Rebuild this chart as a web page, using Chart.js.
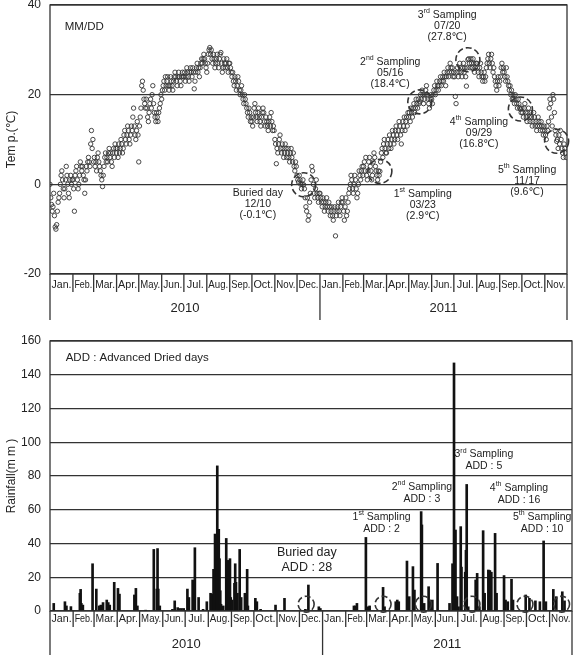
<!DOCTYPE html>
<html>
<head>
<meta charset="utf-8">
<script src="https://cdn.jsdelivr.net/npm/chart.js@4.4.0/dist/chart.umd.min.js"></script>
<style>
  html, body { margin: 0; padding: 0; background: #fff; }
  #wrap { position: relative; width: 577px; height: 655px; }
  canvas { position: absolute; left: 0; }
  #tempChart { top: 0; width: 577px; height: 325px; }
  #rainChart { top: 325px; width: 577px; height: 330px; }
</style>
</head>
<body>
<div id="wrap">
  <canvas id="tempChart" width="577" height="325"></canvas>
  <canvas id="rainChart" width="577" height="330"></canvas>
</div>
<script>
const FONT = '"Liberation Sans", Arial, "DejaVu Sans", sans-serif';
const INK = '#222';

const monthNames = ['Jan.', 'Feb.', 'Mar.', 'Apr.', 'May.', 'Jun.', 'Jul.', 'Aug.', 'Sep.', 'Oct.', 'Nov.', 'Dec.'];
const years = [2010, 2011];
const monthsShown = [12, 11];

// daily mean temperature (℃), one row per month
const temp2010 = [
  [0, -3, -4.5, -6, -5, -2, -7, -9.5, -10, -9, -6, -4, -3, -2, 0, 2, 3, 1, -1, -3, -1, 1, 4, 2, 0, -2, -3, 1, 2, 0, 1],
  [1, -1, -6, 2, 3, 4, 1, -1, 0, 2, 5, 4, 3, 4, 2, 1, -2, 1, 4, 3, 5, 6, 5, 4, 9, 12, 8, 10],
  [5, 6, 4, 5, 3, 6, 7, 5, 4, 3, 2, 1, -0.5, 2, 4, 6, 7, 5, 6, 5, 7, 8, 6, 7, 5, 4, 7, 8, 6, 9, 8],
  [7, 8, 6, 9, 7, 8, 10, 9, 7, 8, 11, 12, 10, 9, 11, 13, 12, 10, 9, 11, 13, 12, 15, 17, 13, 11, 10, 12, 14, 11],
  [5, 13, 15, 17, 22, 23, 21, 19, 18, 17, 19, 17, 15, 14, 16, 18, 19, 17, 20, 22, 18, 16, 15, 14, 16, 15, 14, 16, 17, 18, 20],
  [19, 21, 22, 23, 21, 24, 22, 23, 24, 22, 21, 22, 24, 23, 22, 21, 23, 24, 25, 24, 23, 22, 24, 25, 24, 23, 22, 24, 25, 24],
  [24, 25, 23, 24, 26, 25, 24, 23, 25, 26, 25, 24, 26, 25, 21.3, 23, 25, 26, 27, 25, 26, 24, 26, 27, 28, 27, 28, 29, 28, 27, 26],
  [25, 27, 29, 30, 30.5, 29, 30, 28, 27, 29, 28, 26, 27, 28, 29, 27, 26, 28, 29, 29.4, 27, 25, 26, 28, 27, 26, 27, 28, 26, 25, 27],
  [27, 26, 25, 24, 25, 23, 22, 24, 23, 21, 22, 24, 23, 21, 20, 21, 22, 20, 19, 18, 20, 19, 18, 17, 16, 15, 17, 16, 14, 15],
  [14, 13, 15, 17, 18, 16, 15, 14, 16, 17, 15, 14, 13, 15, 16, 17, 16, 14, 13, 15, 14, 13, 12, 14, 15, 13, 16, 14, 12, 13, 12],
  [10, 9, 4.6, 8, 7, 9, 10, 11, 8, 7, 9, 8, 6, 7, 9, 8, 6, 7, 8, 6, 5, 7, 8, 6, 5, 7, 4, 3, 5, 4],
  [2, 1, 0.5, 2, 1, 0, -1, 0, 1, -0.1, -1, -3, -5, -6, -3, -8, -7, -4, -2, 1, 4, 3, 0, -2, -3, -1, 1, -2, -3, -4, -2]
];
const temp2011 = [
  [-2, -3, -4, -5, -3, -4, -6, -5, -4, -3, -5, -6, -4, -5, -7, -6, -5, -7, -8, -6, -5, -11.5, -7, -6, -5, -4, -6, -7, -5, -4, -3],
  [-4, -6, -8, -5, -3, -7, -6, -4, -2, -1, 0, 2, 1, -1, -2, 0, 2, 1, -1, -3, -2, 0, 3, 2, 1, 3, 4, 2],
  [4, 5, 3, 6, 2, 1, 3, 5, 6, 4, 3, 1, 2, 5, 7, 6, 4, 3, 2, 1, 3, 2, 2.9, 5, 7, 8, 6, 9, 10, 8, 7],
  [7, 9, 10, 8, 11, 9, 8, 10, 12, 11, 9, 10, 12, 13, 11, 10, 12, 14, 13, 11, 9, 12, 14, 13, 15, 12, 14, 15, 13, 16],
  [15, 16, 14, 17, 16, 15, 17, 18, 16, 17, 19, 18, 17, 19, 18, 18.4, 20, 19, 21, 20, 18, 19, 20, 21, 22, 20, 19, 18, 17, 19, 20],
  [19, 18, 20, 21, 22, 20, 21, 23, 22, 21, 22, 23, 24, 22, 23, 24, 23, 25, 24, 22, 24, 25, 26, 24, 25, 27, 26, 25, 26, 24],
  [25, 24, 19.6, 18, 25, 26, 24, 25, 27, 26, 25, 24, 26, 27, 25, 26, 24, 21.9, 26, 27.8, 28, 27, 26, 28, 27, 26, 28, 27, 25, 26, 27],
  [27, 26, 25, 24, 26, 27, 25, 24, 23, 24, 25, 23, 24, 26, 27, 28, 29, 27, 26, 28, 29, 27, 25, 26, 24, 23, 22, 21, 23, 24, 22],
  [23, 24, 26, 27, 25, 26, 25, 24, 23, 26, 24, 23, 22, 21, 22, 20, 21, 19, 20, 19, 18, 20, 19, 18, 17, 19, 18, 17, 16.8, 16],
  [17, 16, 15, 17, 18, 16, 15, 14, 16, 17, 15, 14, 16, 15, 13, 14, 16, 15, 13, 14, 12, 13, 15, 14, 13, 12, 14, 13, 12, 11, 13],
  [12, 11, 10, 13, 12, 14, 17, 19, 18, 15, 13, 20, 19, 16, 12, 11, 9.6, 10, 8, 11, 9, 12, 10, 8, 7, 6, 9, 8, 7, 6]
];

// daily rainfall (mm), day of year -> amount
const rainDay2010 = [6, 21, 23, 29, 41, 42, 43, 45, 58, 63, 67, 69, 72, 77, 79, 81, 87, 92, 94, 114, 116, 118, 129, 140, 144, 145, 146, 148,
  165, 168, 172, 174, 177, 180, 185, 187, 192, 193, 195, 200, 206, 211, 216, 218, 220, 221, 222, 223, 224, 225, 226, 227, 228, 229, 230,
  233, 237, 238, 239, 240, 241, 242, 243, 245, 248, 249, 250, 251, 252, 255, 257, 262, 265, 266, 276, 278, 283, 303, 315, 343, 347, 361, 363];
const rain2010 = [4.5, 5.5, 3, 2.6, 10.5, 12.8, 4.5, 3.5, 28, 13, 3, 3.5, 5, 6.5, 5, 3.5, 17, 13.4, 10, 9.5, 13.4, 3, 0.5, 36.5, 13, 37, 13, 3,
  1, 6, 2, 1.5, 1.5, 1.5, 13, 8, 18.4, 18, 37.5, 8, 1, 5.5, 10.5, 10, 24.7, 20, 45.6, 6, 30.6, 86, 32, 48.4, 31, 12, 4,
  3, 43, 17, 30, 16.4, 4, 31, 8, 6.5, 16.4, 28, 17, 7, 10.5, 36.5, 8, 10.5, 24.7, 3, 7.5, 5.5, 1, 3.5, 7.5, 1, 15.4, 2.5, 1.5];
const rainDay2011 = [43, 45, 47, 59, 62, 64, 82, 84, 99, 101, 103, 114, 117, 122, 124, 133, 134, 137, 143, 146, 148, 155, 171, 175, 176, 177,
  179, 181, 183, 186, 187, 192, 193, 194, 196, 206, 208, 211, 216, 218, 223, 225, 227, 232, 234, 244, 246, 249, 254, 256, 273, 278, 286,
  292, 297, 300, 310, 314, 322, 325];
const rain2011 = [3, 3, 4.5, 43.6, 2.5, 3, 14, 2.5, 5.5, 6.5, 5.5, 29.6, 8.5, 26.3, 12.4, 58.9, 51, 4.5, 14.4, 5.5, 6.5, 28.2, 4.5, 28, 19, 147,
  48, 8.5, 2.5, 50, 26, 23, 36, 75, 2.5, 18.4, 22.3, 2.5, 47.6, 10.5, 24.3, 24, 23, 46, 10.5, 21, 6.5, 5.5, 18.8, 6.5, 9.5, 7.5, 6,
  5.5, 41.5, 5.5, 12.8, 8.5, 11.4, 6];

// sampling events
const sampleDates = ['2010-12-10', '2011-03-23', '2011-05-16', '2011-07-20', '2011-09-29', '2011-11-17'];
const sampleTemps = [-0.1, 2.9, 18.4, 27.8, 16.8, 9.6];
const sampleADD = [28, 2, 3, 5, 16, 10];
const sampleOrd = [null, ['1', 'st'], ['2', 'nd'], ['3', 'rd'], ['4', 'th'], ['5', 'th']];

// label anchors in data units [day index, value]
const tempLabelAt = [[281, -1.9], [504, -2.1], [460, 27.3], [537, 37.8], [580, 13.9], [645, 3.2]];
const rainLabelAt = [[344, 34.4], [444, 55.7], [498, 73.5], [581, 93], [628, 72.9], [659, 55.7]];

function dayIndex(y, m, d) {
  return (Date.UTC(y, m, d) - Date.UTC(2010, 0, 1)) / 864e5;
}
function dateIndex(s) {
  const [y, m, d] = s.split('-').map(Number);
  return dayIndex(y, m - 1, d);
}

const monthStarts = [];
for (let i = 0; i <= 23; i++) monthStarts.push(dayIndex(2010, i, 1));
const xMax = monthStarts[23];

const tempPoints = [];
[temp2010, temp2011].forEach((rows, yi) => {
  rows.forEach((vals, m) => vals.forEach((v, i) => tempPoints.push({ x: dayIndex(years[yi], m, i + 1), y: v })));
});
const rainPoints = [];
rainDay2010.forEach((d, i) => rainPoints.push({ x: dayIndex(2010, 0, d), y: rain2010[i] }));
rainDay2011.forEach((d, i) => rainPoints.push({ x: dayIndex(2011, 0, d), y: rain2011[i] }));

function mmdd(s) { return s.slice(5).replace('-', '/'); }

function drawHead(ctx, ord, text, cx, y, size) {
  ctx.textBaseline = 'middle';
  if (!ord) {
    ctx.font = size + 'px ' + FONT;
    ctx.textAlign = 'center';
    ctx.fillText(text, cx, y);
    return;
  }
  const big = size + 'px ' + FONT;
  const small = Math.round(size * 0.62) + 'px ' + FONT;
  ctx.font = big;
  const w1 = ctx.measureText(ord[0]).width;
  const w3 = ctx.measureText(' Sampling').width;
  ctx.font = small;
  const w2 = ctx.measureText(ord[1]).width;
  let x = cx - (w1 + w2 + w3) / 2;
  ctx.textAlign = 'left';
  ctx.font = big; ctx.fillText(ord[0], x, y); x += w1;
  ctx.font = small; ctx.fillText(ord[1], x, y - size * 0.33); x += w2;
  ctx.font = big; ctx.fillText(' Sampling', x, y);
}

function dashedCircle(ctx, x, y, r) {
  ctx.save();
  ctx.setLineDash([6, 3]);
  ctx.lineWidth = 1.6;
  ctx.strokeStyle = '#333';
  ctx.beginPath();
  ctx.arc(x, y, r, 0, Math.PI * 2);
  ctx.stroke();
  ctx.restore();
}

// box, month/year axis and y title
function frame(opt) {
  return {
    id: 'frame',
    afterDraw(chart) {
      const { ctx, chartArea: a, scales: { x } } = chart;
      ctx.save();
      ctx.strokeStyle = '#333';
      ctx.lineWidth = 1.3;
      ctx.strokeRect(a.left, a.top, a.right - a.left, a.bottom - a.top);
      ctx.fillStyle = INK;
      ctx.textBaseline = 'middle';
      ctx.textAlign = 'center';
      let k = 0;
      years.forEach((yr, yi) => {
        const first = k;
        for (let m = 0; m < monthsShown[yi]; m++, k++) {
          const x0 = x.getPixelForValue(monthStarts[k]);
          const x1 = x.getPixelForValue(monthStarts[k + 1]);
          ctx.beginPath();
          ctx.moveTo(x0, a.bottom);
          ctx.lineTo(x0, a.bottom + (m === 0 ? opt.yearTick : opt.monthTick));
          ctx.stroke();
          ctx.font = '11px ' + FONT;
          ctx.fillText(monthNames[m], (x0 + x1) / 2, a.bottom + opt.monthY, x1 - x0 - 3);
        }
        const xa = x.getPixelForValue(monthStarts[first]);
        const xb = x.getPixelForValue(monthStarts[k]);
        ctx.font = '13px ' + FONT;
        ctx.fillText(String(yr), (xa + xb) / 2, a.bottom + opt.yearY);
      });
      const xe = x.getPixelForValue(monthStarts[k]);
      ctx.beginPath();
      ctx.moveTo(xe, a.bottom);
      ctx.lineTo(xe, a.bottom + opt.yearTick);
      ctx.stroke();

      ctx.translate(12, (a.top + a.bottom) / 2);
      ctx.rotate(-Math.PI / 2);
      ctx.font = '12px ' + FONT;
      ctx.fillText(opt.title, 0, 0);
      ctx.restore();
    }
  };
}

const tempNotes = {
  id: 'tempNotes',
  afterDraw(chart) {
    const { ctx, scales: { x, y } } = chart;
    ctx.save();
    ctx.fillStyle = INK;
    sampleDates.forEach((d, i) => {
      dashedCircle(ctx, x.getPixelForValue(dateIndex(d)), y.getPixelForValue(sampleTemps[i]), 12);
      const cx = x.getPixelForValue(tempLabelAt[i][0]);
      const cy = y.getPixelForValue(tempLabelAt[i][1]);
      drawHead(ctx, sampleOrd[i], 'Buried day', cx, cy, 10.5);
      ctx.textAlign = 'center';
      ctx.font = '10.5px ' + FONT;
      ctx.fillText(mmdd(d), cx, cy + 11);
      ctx.fillText('(' + sampleTemps[i].toFixed(1) + '℃)', cx, cy + 22);
    });
    ctx.textAlign = 'left';
    ctx.font = '11.5px ' + FONT;
    ctx.fillText('MM/DD', x.getPixelForValue(20), y.getPixelForValue(35.2));
    ctx.restore();
  }
};

const rainNotes = {
  id: 'rainNotes',
  afterDraw(chart) {
    const { ctx, scales: { x, y } } = chart;
    ctx.save();
    ctx.fillStyle = INK;
    sampleDates.forEach((d, i) => {
      dashedCircle(ctx, x.getPixelForValue(dateIndex(d)), y.getPixelForValue(4), 8);
      const cx = x.getPixelForValue(rainLabelAt[i][0]);
      const cy = y.getPixelForValue(rainLabelAt[i][1]);
      const size = i === 0 ? 12.5 : 10.5;
      drawHead(ctx, sampleOrd[i], 'Buried day', cx, cy, size);
      ctx.textAlign = 'center';
      ctx.font = size + 'px ' + FONT;
      ctx.fillText('ADD : ' + sampleADD[i], cx, cy + size + 2);
    });
    ctx.textAlign = 'left';
    ctx.textBaseline = 'middle';
    ctx.font = '11.5px ' + FONT;
    ctx.fillText('ADD : Advanced Dried days', x.getPixelForValue(21), y.getPixelForValue(150));
    ctx.restore();
  }
};

function xAxis(h) {
  return {
    type: 'linear', min: 0, max: xMax, offset: false,
    ticks: { display: false }, grid: { display: false }, border: { display: false },
    afterFit(s) { s.height = h; s.paddingLeft = 0; s.paddingRight = 0; }
  };
}
function yAxis(min, max) {
  return {
    min, max,
    ticks: { stepSize: 20, padding: 9, color: INK, font: { size: 12, family: FONT } },
    grid: { color: '#333', lineWidth: 1.2, drawTicks: false },
    border: { display: false },
    afterFit(s) { s.width = 50; s.paddingTop = 0; s.paddingBottom = 0; }
  };
}

new Chart(document.getElementById('tempChart'), {
  type: 'scatter',
  data: {
    datasets: [{
      data: tempPoints,
      pointStyle: 'circle',
      pointRadius: 2.2,
      borderWidth: 0.9,
      borderColor: '#333',
      backgroundColor: 'rgba(255,255,255,0)'
    }]
  },
  options: {
    responsive: false,
    animation: false,
    layout: { padding: { top: 5, right: 10, left: 0, bottom: 0 } },
    plugins: { legend: { display: false }, tooltip: { enabled: false } },
    scales: { x: xAxis(51), y: yAxis(-20, 40) }
  },
  plugins: [frame({ title: 'Tem p.(℃)', monthTick: 18, yearTick: 46, monthY: 11, yearY: 34 }), tempNotes]
});

new Chart(document.getElementById('rainChart'), {
  type: 'bar',
  data: {
    datasets: [{ data: rainPoints, backgroundColor: '#111', barThickness: 2 }]
  },
  options: {
    responsive: false,
    animation: false,
    layout: { padding: { top: 16, right: 5, left: 0, bottom: 0 } },
    plugins: { legend: { display: false }, tooltip: { enabled: false } },
    scales: { x: xAxis(44), y: yAxis(0, 160) }
  },
  plugins: [frame({ title: 'Rainfall(m m )', monthTick: 16, yearTick: 44, monthY: 8, yearY: 33 }), rainNotes]
});
</script>
</body>
</html>
